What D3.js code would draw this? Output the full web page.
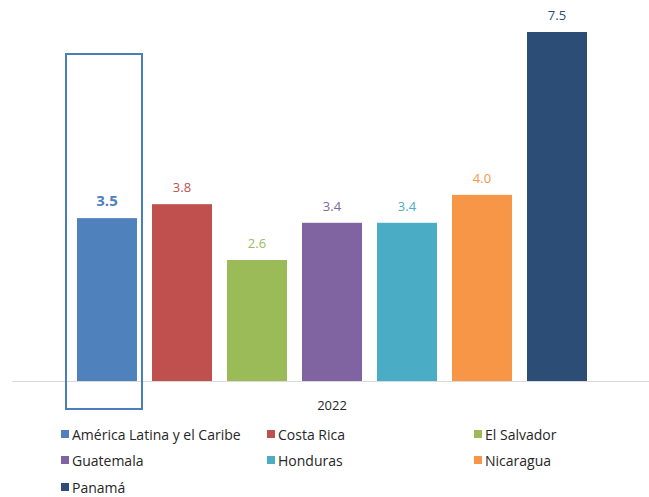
<!DOCTYPE html>
<html>
<head>
<meta charset="utf-8">
<script src="https://cdn.jsdelivr.net/npm/d3@7"></script>
<style>
  body { margin: 0; background: #fff; }
  text { font-family: "Open Sans", "Noto Sans", sans-serif; }
</style>
</head>
<body>
<svg class="chart" width="649" height="497"></svg>
<script>
const year = '2022';
const countries = ['América Latina y el Caribe', 'Costa Rica', 'El Salvador', 'Guatemala', 'Honduras', 'Nicaragua', 'Panamá'];
const values = [3.5, 3.8, 2.6, 3.4, 3.4, 4.0, 7.5];
const colors = ['#4f81bd', '#c0504d', '#9bbb59', '#8064a2', '#4bacc6', '#f79646', '#2c4d75'];

const width = 649;
const height = 497;
const baseY = 381;

const svg = d3.select('.chart');

// one category group, 7 series inside it
const x = d3.scaleBand()
    .domain(countries)
    .range([69.5, 594.5])
    .paddingInner(0.2)
    .paddingOuter(0.1);

const y = d3.scaleLinear()
    .domain([0, 7.5])
    .range([baseY, 32]);

const color = d3.scaleOrdinal().domain(countries).range(colors);

// axis line
svg.append('line')
    .attr('x1', 12).attr('x2', width)
    .attr('y1', baseY + 0.5).attr('y2', baseY + 0.5)
    .attr('stroke', '#d9d9d9')
    .attr('stroke-width', 1);

svg.append('g')
    .selectAll('rect')
    .data(values)
    .enter().append('rect')
    .attr('x', (d, i) => x(countries[i]))
    .attr('width', x.bandwidth())
    .attr('y', d => y(d))
    .attr('height', d => baseY - y(d))
    .attr('fill', (d, i) => color(countries[i]));

svg.append('g')
    .selectAll('text')
    .data(values)
    .enter().append('text')
    .attr('x', (d, i) => x(countries[i]) + x.bandwidth() / 2)
    .attr('y', d => y(d) - 12)
    .attr('text-anchor', 'middle')
    .attr('font-size', (d, i) => i === 0 ? 15 : 13)
    .attr('font-weight', (d, i) => i === 0 ? 'bold' : 'normal')
    .attr('fill', (d, i) => color(countries[i]))
    .text(d => d.toFixed(1));

// highlight box round the regional bar
const hx = x(countries[0]);
svg.append('rect')
    .attr('x', hx - 11)
    .attr('y', 54)
    .attr('width', x.bandwidth() + 16)
    .attr('height', 355)
    .attr('fill', 'none')
    .attr('stroke', '#4a7ebb')
    .attr('stroke-width', 2);

// category label
svg.append('text')
    .attr('x', (x.range()[0] + x.range()[1]) / 2)
    .attr('y', 410)
    .attr('text-anchor', 'middle')
    .attr('font-size', 13)
    .attr('fill', '#262626')
    .text(year);

// legend
const colX = [61, 267, 474];
const rowY = [440, 466, 493];
const legend = svg.append('g')
    .selectAll('g')
    .data(countries)
    .enter().append('g')
    .attr('transform', (d, i) => `translate(${colX[i % 3]},${rowY[Math.floor(i / 3)]})`);

legend.append('rect')
    .attr('x', 0).attr('y', -10)
    .attr('width', 8).attr('height', 8)
    .attr('fill', d => color(d));

legend.append('text')
    .attr('x', 11)
    .attr('y', 0)
    .attr('font-size', 14)
    .attr('fill', '#262626')
    .text(d => d);
</script>
</body>
</html>
